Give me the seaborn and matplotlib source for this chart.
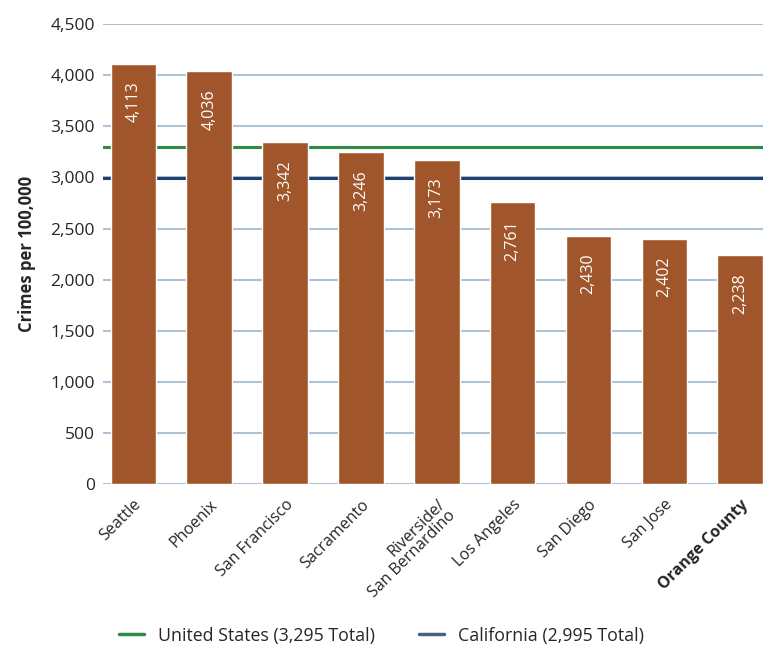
import pandas as pd
import matplotlib.pyplot as plt
import seaborn as sns
from matplotlib.lines import Line2D

# データ
cities = ['Seattle', 'Phoenix', 'San Francisco', 'Sacramento',
          'Riverside/\nSan Bernardino', 'Los Angeles', 'San Diego',
          'San Jose', 'Orange County']
crimes = [4113, 4036, 3342, 3246, 3173, 2761, 2430, 2402, 2238]
us_total = 3295
ca_total = 2995

sns.set_theme(style='white')
plt.rcParams['font.family'] = ['Open Sans', 'DejaVu Sans']

df = pd.DataFrame({'city': cities, 'crimes': crimes})

fig = plt.figure(figsize=(7.63, 6.49), dpi=100)
ax = fig.add_axes([0.135, 0.254, 0.865, 0.709])

sns.barplot(data=df, x='city', y='crimes', color='#a0562a',
            saturation=1, width=0.6, ax=ax, zorder=3)

# 横線（全国・州平均）
ax.axhline(us_total, color='#2e8b45', lw=2.2, zorder=2)
ax.axhline(ca_total, color='#1f3f6e', lw=2.2, zorder=2)

# 数値ラベル
for i, v in enumerate(crimes):
    ax.annotate(f'{v:,}', xy=(i, v), xytext=(0, -13),
                textcoords='offset points', rotation=90,
                ha='center', va='top', color='white', fontsize=11.5,
                zorder=4)

ax.set_ylim(0, 4500)
ax.set_xlim(-0.4, 8.3)
ax.set_yticks(range(0, 4501, 500))
ax.set_yticklabels([f'{t:,}' for t in range(0, 4501, 500)], fontsize=12.5)
ax.yaxis.grid(True, color='#adc2d6', lw=1.5, zorder=0)
ax.set_axisbelow(True)
for s in ax.spines.values():
    s.set_visible(False)
ax.tick_params(axis='both', length=0, pad=6)

ax.set_xlabel('')
ax.set_ylabel('Crimes per 100,000', fontsize=12, fontweight='bold', labelpad=10)
ax.set_xticks(range(len(cities)))
ax.set_xticklabels(cities, rotation=45, ha='right', rotation_mode='anchor',
                   fontsize=11.5, linespacing=0.95)
ax.tick_params(axis='x', pad=9)
ax.get_xticklabels()[-1].set_fontweight('bold')

handles = [Line2D([0], [0], color='#2e8b45', lw=2.5),
           Line2D([0], [0], color='#4a5f85', lw=2.5)]
fig.legend(handles, ['United States (3,295 Total)', 'California (2,995 Total)'],
           loc='lower center', bbox_to_anchor=(0.5, -0.018), ncol=2,
           frameon=False, fontsize=12.8, handlelength=1.4, columnspacing=2.5)

plt.savefig('out.png', dpi=100)
